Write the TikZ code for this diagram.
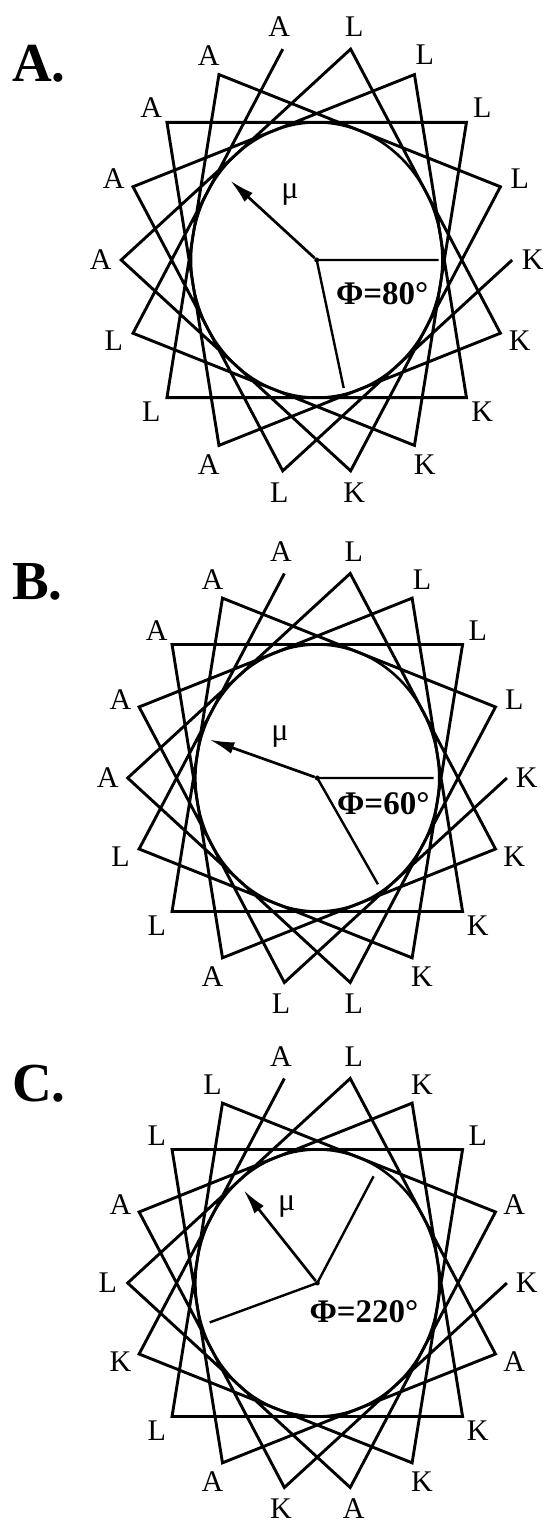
\documentclass[tikz,border=0pt]{standalone}
\usepackage{fontspec}
\setmainfont{Liberation Serif}
\usetikzlibrary{arrows.meta}
% one helical wheel: #1 name prefix, #2 residues (residue k sits at 100+100k degrees)
\newcommand{\wheel}[2]{%
  \foreach \resname [count=\k from 0] in {#2} {
    \coordinate (#1v\k) at ({100+100*\k}:195.5);
    \node[res] (#1r\k) at ({100+100*\k}:216) {\resname};
  }
  \draw[chain] (#1v0) \foreach \k in {1,...,17} {-- (#1v\k)};
  \draw[ring] (0,0) circle (125.7);
  \node[dot] (#1c) at (0,0) {};
}

\begin{document}
\begin{tikzpicture}[x=1pt,y=1pt,>={Latex[length=25pt,width=12pt]},
  res/.style={font=\fontsize{30}{31}\selectfont,inner sep=0pt},
  panel/.style={font=\fontsize{55}{56}\selectfont\bfseries,inner sep=0pt,anchor=base west},
  phi/.style={font=\fontsize{33}{34}\selectfont\bfseries,inner sep=0pt},
  mu/.style={font=\fontsize{32}{33}\selectfont,inner sep=0pt},
  chain/.style={line width=2.9pt},
  ring/.style={line width=2.6pt},
  dot/.style={circle,fill,inner sep=0pt,minimum size=5pt},
  face/.style={line width=2.4pt},
  moment/.style={line width=2.7pt,->}]
\fill[white] (0,0) rectangle (548,1526);

% A. KLAL
\begin{scope}[shift={(316.7,1266)},yscale=1.095]
  \wheel{A}{A,L,K,L,A,A,K,L,A,K,L,A,L,K,L,A,L,K}
  \coordinate (Amu) at (140:113);
  \coordinate (Aph1) at (0:122);
  \coordinate (Aph2) at (-77:120);
  \draw[moment] (Ac) -- (Amu);
  \draw[face] (Aph1) -- (Ac.center) -- (Aph2);
  \node[mu] (Amulab) at (-26.7,59.4) {μ};
  \node[phi] (Aphlab) at (65.5,-30.4) {Φ=80°};
\end{scope}
\node[panel] (Alab) at (12,1444.3) {A.};

% B.
\begin{scope}[shift={(317.3,748)},xscale=0.97,yscale=1.062]
  \wheel{B}{A,L,K,L,A,A,K,L,A,L,L,A,L,K,L,A,L,K}
  \coordinate (Bmu) at (162:117);
  \coordinate (Bph1) at (0:120);
  \coordinate (Bph2) at (-58:118);
  \draw[moment] (Bc) -- (Bmu);
  \draw[face] (Bph1) -- (Bc.center) -- (Bph2);
  \node[mu] (Bmulab) at (-38.5,38.6) {μ};
  \node[phi] (Bphlab) at (68,-24.2) {Φ=60°};
\end{scope}
\node[panel] (Blab) at (12,926) {B.};

% C.
\begin{scope}[shift={(317.3,243)},xscale=0.97,yscale=1.062]
  \wheel{C}{A,K,K,L,L,A,A,L,L,A,A,L,L,K,K,A,K,K}
  \coordinate (Cmu) at (131:116);
  \coordinate (Cph1) at (60:116);
  \coordinate (Cph2) at (198.5:117);
  \draw[moment] (Cc) -- (Cmu);
  \draw[face] (Cph1) -- (Cc.center) -- (Cph2);
  \node[mu] (Cmulab) at (-31.5,72.2) {μ};
  \node[phi] (Cphlab) at (48.1,-27.3) {Φ=220°};
\end{scope}
\node[panel] (Clab) at (12,424) {C.};
\end{tikzpicture}
\end{document}
